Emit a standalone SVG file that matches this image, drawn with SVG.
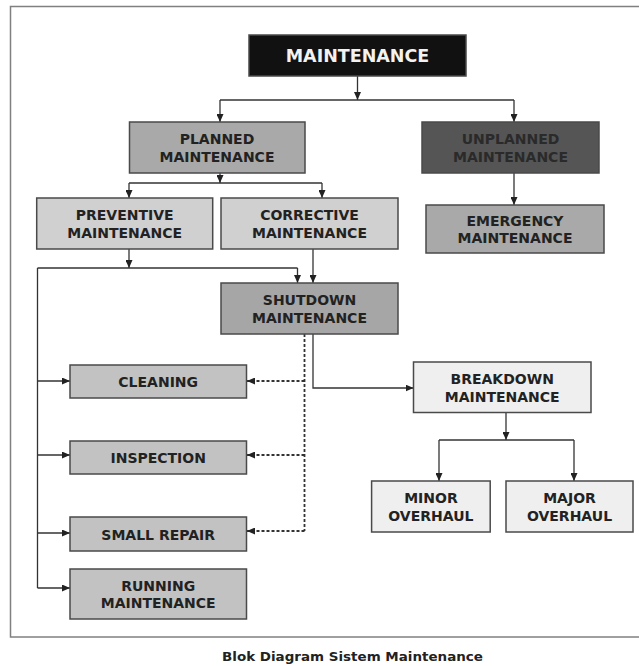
<svg xmlns="http://www.w3.org/2000/svg" width="639" height="666" viewBox="0 0 639 666">
<defs>
<marker id="arr" markerUnits="userSpaceOnUse" markerWidth="8" markerHeight="7" refX="8" refY="3.5" orient="auto">
<path d="M0,0 L8,3.5 L0,7 z" fill="#222"/>
</marker>
<style>
.box{stroke:#4a4a4a;stroke-width:1.5}
.t{font-family:"DejaVu Sans","Verdana",sans-serif;font-weight:bold;font-size:14px;fill:#222;text-anchor:middle}
.ln{fill:none;stroke:#333;stroke-width:1.3}
.ar{fill:none;stroke:#333;stroke-width:1.3;marker-end:url(#arr)}
.da{fill:none;stroke:#333;stroke-width:1.8;stroke-dasharray:3,2}
.dar{fill:none;stroke:#333;stroke-width:1.8;stroke-dasharray:3,2;marker-end:url(#arr)}
</style>
</defs>
<rect width="639" height="666" fill="#ffffff"/>
<rect x="10.5" y="6.5" width="640" height="630.5" fill="none" stroke="#808080" stroke-width="1.5"/>

<g id="connectors">
<path class="ar" d="M357.5,76 V100"/>
<path class="ln" d="M220,100 H514"/>
<path class="ar" d="M220,100 V122"/>
<path class="ar" d="M514,100 V122"/>
<path class="ar" d="M220,173 V183"/>
<path class="ln" d="M129,183 H322"/>
<path class="ar" d="M129,183 V198"/>
<path class="ar" d="M322,183 V198"/>
<path class="ar" d="M514,173 V205"/>
<path class="ar" d="M129,249 V268"/>
<path class="ln" d="M37.5,268 H297.5"/>
<path class="ar" d="M297.5,268 V283"/>
<path class="ar" d="M313,249 V283"/>
<path class="ln" d="M37.5,268 V588"/>
<path class="ar" d="M37.5,381 H70"/>
<path class="ar" d="M37.5,455 H70"/>
<path class="ar" d="M37.5,533 H70"/>
<path class="ar" d="M37.5,588 H70"/>
<path class="da" d="M304.5,334 V531"/>
<path class="dar" d="M304.5,381 H247"/>
<path class="dar" d="M304.5,455 H247"/>
<path class="dar" d="M304.5,531 H247"/>
<path class="ar" d="M313,334 V388 H413.5"/>
<path class="ar" d="M506,412.5 V440"/>
<path class="ln" d="M439,440 H574"/>
<path class="ar" d="M439,440 V481"/>
<path class="ar" d="M574,440 V481"/>
</g>

<g id="maintenance">
<rect class="box" x="249" y="35" width="217" height="41" fill="#111111" stroke="#222"/>
<text class="t" x="357.5" y="61.5" style="font-size:17.5px;fill:#f2f2f2">MAINTENANCE</text>
</g>
<g id="planned">
<rect class="box" x="129.5" y="122" width="175.5" height="51" fill="#a9a9a9"/>
<text class="t" x="217" y="144.3">PLANNED</text>
<text class="t" x="217" y="161.7">MAINTENANCE</text>
</g>
<g id="unplanned">
<rect class="box" x="422" y="122" width="177" height="51" fill="#555555" stroke="#3a3a3a"/>
<text class="t" x="510.5" y="144.3" style="fill:#2a2a2a">UNPLANNED</text>
<text class="t" x="510.5" y="161.7" style="fill:#2a2a2a">MAINTENANCE</text>
</g>
<g id="preventive">
<rect class="box" x="36.7" y="198" width="176" height="51" fill="#d0d0d0"/>
<text class="t" x="124.7" y="220.3">PREVENTIVE</text>
<text class="t" x="124.7" y="237.7">MAINTENANCE</text>
</g>
<g id="corrective">
<rect class="box" x="221" y="198" width="177" height="51" fill="#d0d0d0"/>
<text class="t" x="309.5" y="220.3">CORRECTIVE</text>
<text class="t" x="309.5" y="237.7">MAINTENANCE</text>
</g>
<g id="emergency">
<rect class="box" x="426" y="205" width="178" height="48" fill="#a9a9a9"/>
<text class="t" x="515" y="225.8">EMERGENCY</text>
<text class="t" x="515" y="243.2">MAINTENANCE</text>
</g>
<g id="shutdown">
<rect class="box" x="221" y="283" width="177" height="51" fill="#a6a6a6"/>
<text class="t" x="309.5" y="305.3">SHUTDOWN</text>
<text class="t" x="309.5" y="322.7">MAINTENANCE</text>
</g>
<g id="cleaning">
<rect class="box" x="70" y="365" width="176.5" height="33" fill="#c2c2c2"/>
<text class="t" x="158.2" y="387.3">CLEANING</text>
</g>
<g id="inspection">
<rect class="box" x="70" y="441" width="176.5" height="33" fill="#c2c2c2"/>
<text class="t" x="158.2" y="463.3">INSPECTION</text>
</g>
<g id="small-repair">
<rect class="box" x="70" y="517" width="176.5" height="34" fill="#c2c2c2"/>
<text class="t" x="158.2" y="539.8">SMALL REPAIR</text>
</g>
<g id="running">
<rect class="box" x="70" y="569" width="176.5" height="50" fill="#c2c2c2"/>
<text class="t" x="158.2" y="590.8">RUNNING</text>
<text class="t" x="158.2" y="608.2">MAINTENANCE</text>
</g>
<g id="breakdown">
<rect class="box" x="413.5" y="362" width="177.5" height="50.5" fill="#efefef" stroke="#6a6a6a"/>
<text class="t" x="502.2" y="384.1">BREAKDOWN</text>
<text class="t" x="502.2" y="401.5">MAINTENANCE</text>
</g>
<g id="minor">
<rect class="box" x="371.6" y="481" width="118.6" height="51" fill="#efefef" stroke="#6a6a6a"/>
<text class="t" x="430.9" y="503.3">MINOR</text>
<text class="t" x="430.9" y="520.7">OVERHAUL</text>
</g>
<g id="major">
<rect class="box" x="506" y="481" width="127" height="51" fill="#efefef" stroke="#6a6a6a"/>
<text class="t" x="569.5" y="503.3">MAJOR</text>
<text class="t" x="569.5" y="520.7">OVERHAUL</text>
</g>

<text x="352.5" y="660.5" style="font-family:'DejaVu Sans',sans-serif;font-weight:bold;font-size:12px;fill:#222;text-anchor:middle" textLength="261" lengthAdjust="spacingAndGlyphs">Blok Diagram Sistem Maintenance</text>
</svg>
